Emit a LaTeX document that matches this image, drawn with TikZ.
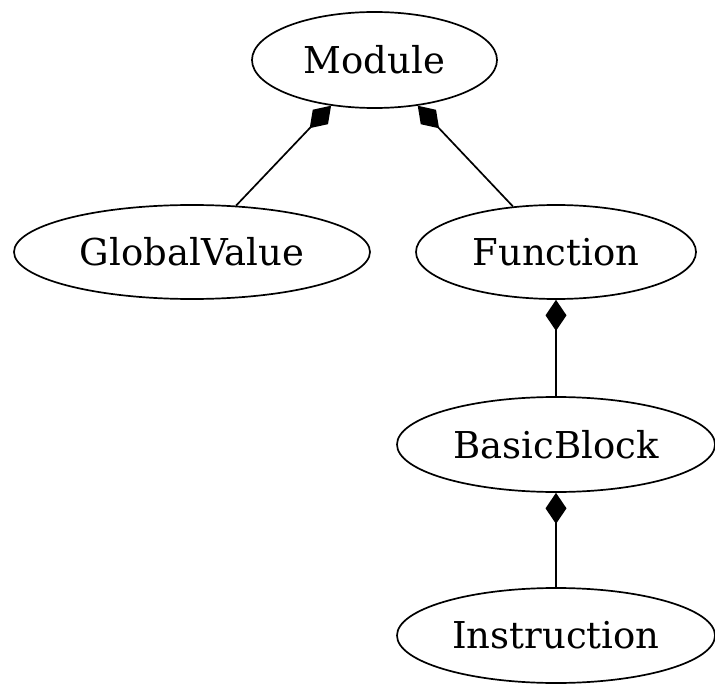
\documentclass[tikz,border=0pt]{standalone}
\usepackage{fontspec}
\setmainfont{DejaVu Serif}
\usetikzlibrary{arrows.meta,shapes.geometric}
\begin{document}
\begin{tikzpicture}[x=1pt,y=-1pt,
  cls/.style={draw,ellipse,line width=1.7pt,inner sep=0pt,
    font=\fontsize{37}{40}\selectfont},
  comp/.style={line width=1.7pt,{Diamond[length=31pt,width=21pt]}-}]
\useasboundingbox (0,0) rectangle (715,687);
\node[cls,minimum width=245,minimum height=96] (module) at (374.5,60) {Module};
\node[cls,minimum width=356,minimum height=94] (global) at (192,252) {GlobalValue};
\node[cls,minimum width=280,minimum height=94] (function) at (556,252) {Function};
\node[cls,minimum width=318,minimum height=95] (block) at (556,444.5) {BasicBlock};
\node[cls,minimum width=318,minimum height=95] (instr) at (556,635.5) {Instruction};
\draw[comp] (module) -- (global);
\draw[comp] (module) -- (function);
\draw[comp] (function.south) -- (function.south |- block.north);
\draw[comp] (block.south) -- (block.south |- instr.north);
\end{tikzpicture}
\end{document}
